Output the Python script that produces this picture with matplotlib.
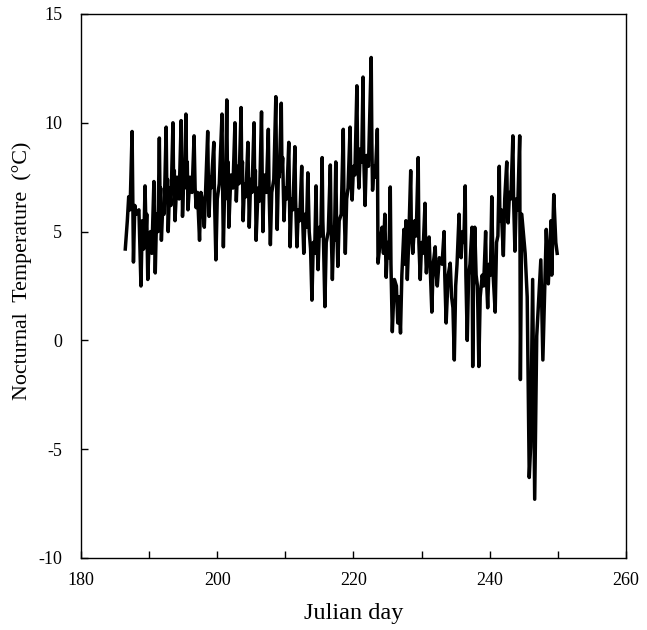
import matplotlib
matplotlib.use('Agg')
import matplotlib.pyplot as plt

# nocturnal temperature readings (Julian day, deg C)
night_readings = [
    (186.5, 4.2), (186.8, 5.5), (187.0, 6.6), (187.2, 6.0), (187.5, 9.6),
    (187.6, 6.5), (187.7, 3.6), (187.9, 6.2), (188.1, 5.8), (188.5, 6.0),
    (188.8, 2.5), (189.0, 5.5), (189.2, 4.2), (189.4, 7.1), (189.55, 5.0),
    (189.65, 5.8), (189.8, 2.8), (190.0, 4.5), (190.2, 5.0), (190.4, 4.0),
    (190.7, 7.3), (190.8, 5.2), (190.9, 3.1), (191.1, 5.8), (191.3, 5.0),
    (191.5, 9.3), (191.6, 6.5), (191.7, 7.0), (191.8, 4.6), (192.0, 6.2),
    (192.2, 5.8), (192.5, 9.8), (192.6, 6.8), (192.7, 7.4), (192.8, 5.0),
    (193.0, 7.0), (193.2, 6.2), (193.5, 10.0), (193.6, 7.0), (193.7, 7.8),
    (193.8, 5.5), (194.1, 7.5), (194.4, 6.5), (194.7, 10.1), (194.8, 7.5),
    (194.85, 8.0), (194.9, 5.7), (195.1, 7.8), (195.2, 7.0), (195.4, 10.4),
    (195.5, 7.6), (195.6, 8.2), (195.7, 6.0), (196.0, 7.5), (196.3, 6.8),
    (196.6, 9.4), (196.75, 7.0), (196.9, 6.1), (197.1, 6.8), (197.4, 4.6),
    (197.6, 6.8), (197.8, 6.5), (198.1, 5.2), (198.3, 7.0), (198.6, 9.6),
    (198.7, 7.2), (198.8, 5.7), (199.0, 7.5), (199.1, 7.0), (199.5, 9.1),
    (199.6, 6.5), (199.8, 3.7), (200.0, 6.5), (200.3, 7.2), (200.7, 10.4),
    (200.8, 6.8), (200.9, 4.3), (201.1, 7.2), (201.2, 6.5), (201.4, 11.05),
    (201.5, 7.5), (201.6, 8.2), (201.7, 5.2), (202.0, 7.6), (202.3, 7.0),
    (202.6, 10.0), (202.7, 8.0), (202.8, 6.4), (203.0, 8.0), (203.2, 7.2),
    (203.5, 10.7), (203.6, 7.6), (203.7, 8.2), (203.8, 5.5), (204.0, 7.2),
    (204.2, 6.6), (204.5, 9.1), (204.6, 7.0), (204.7, 5.2), (204.9, 7.4),
    (205.1, 6.8), (205.4, 10.0), (205.5, 7.2), (205.6, 7.8), (205.7, 4.6),
    (206.0, 7.0), (206.2, 6.4), (206.5, 10.5), (206.6, 7.5), (206.7, 5.0),
    (206.9, 7.6), (207.2, 6.8), (207.5, 9.7), (207.6, 7.0), (207.8, 4.4),
    (208.0, 6.8), (208.3, 7.4), (208.6, 11.2), (208.7, 7.6), (208.8, 5.1),
    (209.0, 8.0), (209.1, 7.5), (209.4, 10.9), (209.5, 7.8), (209.6, 8.4),
    (209.8, 5.5), (210.0, 7.0), (210.2, 6.5), (210.5, 9.1), (210.6, 6.8),
    (210.7, 4.3), (210.9, 6.5), (211.1, 6.0), (211.4, 8.9), (211.5, 6.5),
    (211.7, 4.3), (211.9, 6.0), (212.1, 5.5), (212.4, 8.0), (212.5, 6.0),
    (212.7, 4.0), (212.9, 5.8), (213.1, 5.2), (213.3, 7.7), (213.5, 5.0),
    (213.7, 4.2), (213.9, 1.85), (214.1, 4.5), (214.3, 4.0), (214.5, 7.1),
    (214.6, 5.0), (214.8, 3.25), (215.0, 5.2), (215.2, 4.8), (215.4, 8.4),
    (215.5, 5.5), (215.6, 4.5), (215.8, 1.55), (216.0, 4.5), (216.3, 5.0),
    (216.6, 8.06), (216.7, 5.5), (216.9, 2.8), (217.1, 5.2), (217.2, 4.6),
    (217.4, 8.2), (217.5, 5.8), (217.7, 3.4), (217.9, 5.5), (218.2, 5.8),
    (218.5, 9.7), (218.6, 6.5), (218.8, 4.0), (219.0, 6.5), (219.2, 7.0),
    (219.5, 9.8), (219.6, 7.5), (219.8, 6.45), (220.0, 8.0), (220.2, 7.6),
    (220.5, 11.7), (220.6, 8.5), (220.8, 7.0), (221.0, 8.8), (221.2, 8.2),
    (221.4, 12.1), (221.5, 8.5), (221.7, 6.2), (221.9, 8.5), (222.2, 8.0),
    (222.6, 13.0), (222.7, 9.0), (222.8, 6.9), (223.0, 8.0), (223.2, 7.5),
    (223.5, 9.7), (223.6, 3.55), (224.0, 4.75), (224.2, 5.2), (224.4, 4.0),
    (224.6, 5.8), (224.8, 2.9), (225.0, 4.5), (225.2, 3.8), (225.4, 7.05),
    (225.5, 3.5), (225.7, 0.4), (226.0, 2.8), (226.3, 2.5), (226.5, 0.8),
    (226.7, 2.0), (226.9, 0.34), (227.1, 3.0), (227.4, 5.1), (227.5, 3.5),
    (227.7, 5.5), (227.9, 2.8), (228.1, 4.5), (228.4, 7.8), (228.5, 5.0),
    (228.7, 4.0), (229.0, 5.5), (229.2, 4.8), (229.5, 8.4), (229.6, 4.5),
    (229.8, 2.8), (230.0, 4.5), (230.2, 4.0), (230.5, 6.3), (230.6, 4.0),
    (230.7, 3.1), (230.9, 4.2), (231.1, 4.75), (231.3, 3.0), (231.5, 1.3),
    (231.7, 3.5), (232.0, 4.3), (232.1, 3.2), (232.3, 2.5), (232.6, 3.8),
    (233.0, 3.5), (233.3, 5.0), (233.4, 3.0), (233.6, 0.8), (233.9, 3.0),
    (234.2, 3.55), (234.4, 2.0), (234.6, 1.5), (234.8, -0.9), (235.0, 2.5),
    (235.2, 3.5), (235.5, 5.8), (235.6, 4.2), (235.8, 3.8), (236.0, 5.0),
    (236.2, 4.5), (236.4, 7.1), (236.5, 3.0), (236.7, 0.0), (236.9, 3.0),
    (237.1, 3.5), (237.4, 5.2), (237.5, -1.2), (237.6, 2.0), (237.8, 5.2),
    (238.0, 3.0), (238.2, 2.5), (238.4, -1.2), (238.6, 2.0), (238.9, 3.0),
    (239.1, 2.5), (239.4, 5.0), (239.5, 3.0), (239.7, 1.5), (239.9, 3.5),
    (240.1, 3.0), (240.3, 6.6), (240.5, 3.0), (240.8, 1.3), (241.0, 4.5),
    (241.2, 4.8), (241.4, 8.0), (241.5, 5.5), (241.7, 6.0), (242.0, 3.9),
    (242.2, 6.5), (242.5, 8.2), (242.6, 6.0), (242.7, 5.4), (242.9, 6.8),
    (243.1, 6.5), (243.4, 9.4), (243.5, 6.5), (243.7, 4.1), (243.9, 6.5),
    (244.1, 6.0), (244.4, 9.4), (244.5, -1.8), (244.7, 5.8), (245.2, 4.0),
    (245.5, 2.0), (245.8, -6.3), (246.0, -4.9), (246.3, 2.8), (246.6, -7.3),
    (246.9, 0.2), (247.5, 3.7), (247.8, -0.9), (248.3, 5.1), (248.6, 2.6),
    (249.0, 5.5), (249.1, 3.0), (249.4, 6.7), (249.7, 4.5), (249.9, 4.0),
]
days = [d for d, t in night_readings]
temps = [t for d, t in night_readings]

x_ticks = [180, 190, 200, 210, 220, 230, 240, 250, 260]
x_tick_labels = ['180', '', '200', '', '220', '', '240', '', '260']
y_ticks = [-10, -5, 0, 5, 10, 15]

plt.rcParams['font.family'] = ['Liberation Serif', 'DejaVu Serif']
plt.rcParams['axes.unicode_minus'] = False

fig = plt.figure(figsize=(6.47, 6.30), dpi=100)
ax = fig.add_axes([0.1252, 0.1143, 0.8423, 0.8635])

ax.plot(days, temps, color='black', linewidth=2.5)

ax.set_xlim(180, 260)
ax.set_ylim(-10, 15)
ax.set_xticks(x_ticks)
ax.set_xticklabels(x_tick_labels)
ax.set_yticks(y_ticks)

ax.tick_params(axis='both', direction='in', length=5, width=1, labelsize=13,
               top=False, right=False)
ax.tick_params(axis='x', pad=10)
ax.tick_params(axis='y', pad=13.5)
for s in ax.spines.values():
    s.set_linewidth(1)

ax.set_xlabel('Julian day', fontsize=17.5, labelpad=10)
ax.set_ylabel('Nocturnal  Temperature  (\u00b0C)', fontsize=15.8, labelpad=4)
ax.yaxis.set_label_coords(-0.09, 0.528)

fig.savefig('out.png', dpi=100, facecolor='white')
